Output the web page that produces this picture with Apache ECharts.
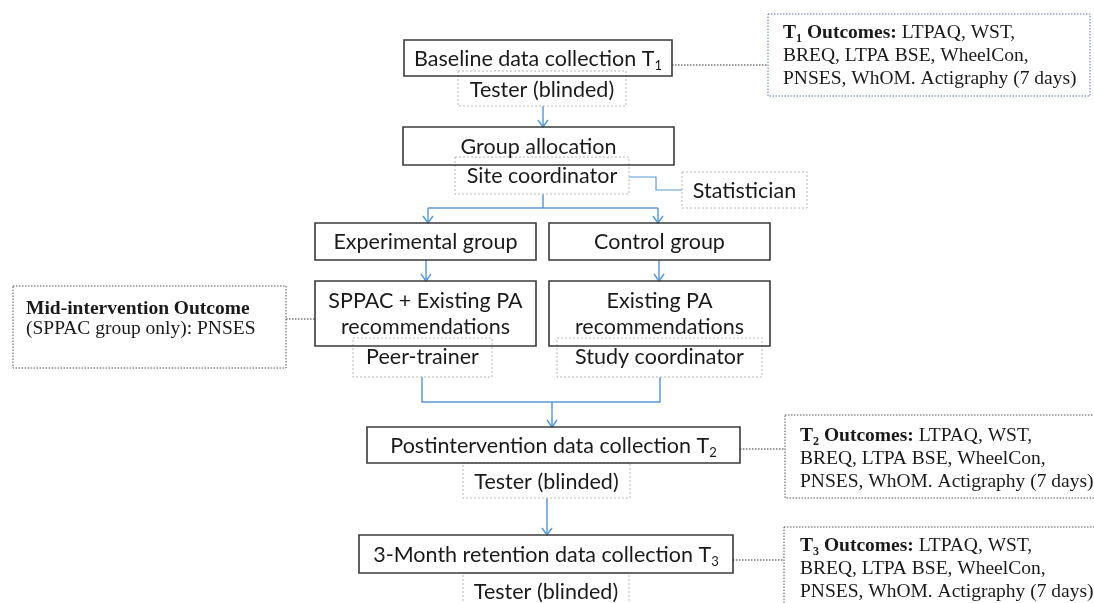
<!DOCTYPE html>
<html>
<head>
<meta charset="utf-8">
<script src="https://cdn.jsdelivr.net/npm/echarts@6/dist/echarts.min.js"></script>
<style>
  html, body { margin: 0; padding: 0; background: #fff; }
  #chart { width: 1094px; height: 603px; }
</style>
</head>
<body>
<div id="chart"></div>
<script>
// flow steps (text only)
const stepLabels = [
  'Baseline data collection T{s|1}',
  'Group allocation',
  'Experimental group',
  'Control group',
  'SPPAC + Existing PA\nrecommendations',
  'Existing PA\nrecommendations',
  'Postintervention data collection T{s|2}',
  '3-Month retention data collection T{s|3}'
]
const roleLabels = ['Tester (blinded)', 'Site coordinator', 'Statistician', 'Peer-trainer', 'Study coordinator', 'Tester (blinded)', 'Tester (blinded)']
const outcomeTimes = ['1', '2', '3']
const outcomeMeasures = ['LTPAQ, WST,', 'BREQ, LTPA BSE, WheelCon,', 'PNSES, WhOM. Actigraphy (7 days)']
const midTitle = 'Mid-intervention Outcome'
const midText = '(SPPAC group only): PNSES'

// layout
const stepRects = [
  [404, 40, 268, 36], [403, 127, 271, 38], [315, 223, 221, 37], [549, 223, 221, 37],
  [315, 281, 221, 65], [549, 281, 221, 65], [367, 427, 373, 36], [359, 535, 374, 38]
]
const roleRects = [
  [458, 71, 168, 35], [455, 157, 174, 37], [682, 172, 125, 36], [353, 338, 139, 39],
  [557, 338, 205, 39], [463, 463, 167, 35], [463, 573, 166, 40]
]
const outcomeRects = [[768, 14, 322, 82], [785, 415, 320, 83], [784, 527, 320, 90]]
const outcomeTextPos = [[783, 33], [800, 436], [800, 546]]

const chart = echarts.init(document.getElementById('chart'))
const sans = 'Lato, "Open Sans", sans-serif'
const serif = '"Liberation Serif", "DejaVu Serif", serif'
const blue = '#5b9bd5'
const els = []

function line(points, color, width, dash) {
  els.push({
    type: 'polyline',
    shape: { points: points },
    style: { stroke: color, lineWidth: width, fill: null, lineDash: dash || null }
  })
}
function arrow(x, y1, y2) {
  line([[x, y1], [x, y2]], blue, 1.5)
  line([[x - 5, y2 - 7], [x, y2], [x + 5, y2 - 7]], blue, 1.5)
}

// connectors
arrow(543, 106, 127)
line([[543, 194], [543, 208]], blue, 1.5)
line([[428, 208], [658, 208]], blue, 1.5)
arrow(428, 208, 223)
arrow(658, 208, 223)
arrow(426, 260, 281)
arrow(659, 260, 281)
line([[422, 377], [422, 402], [660, 402], [660, 377]], blue, 1.5)
arrow(552, 402, 427)
arrow(547, 498, 535)
line([[629, 177], [656, 177], [656, 190], [682, 190]], blue, 1.2)

line([[672, 65], [768, 65]], '#333', 1, [1.5, 1.5])
line([[286, 319], [315, 319]], '#333', 1, [1.5, 1.5])
line([[740, 449], [785, 449]], '#333', 1, [1.5, 1.5])
line([[733, 560], [784, 560]], '#333', 1, [1.5, 1.5])

// role boxes (dotted grey)
roleRects.forEach((r, i) => {
  els.push({
    type: 'rect',
    shape: { x: r[0], y: r[1], width: r[2], height: r[3] },
    style: { fill: null, stroke: '#b8b8b8', lineWidth: 1, lineDash: [2, 2] }
  })
  els.push({
    type: 'text',
    style: {
      text: roleLabels[i], x: r[0] + r[2] / 2, y: r[1] + 19,
      align: 'center', verticalAlign: 'middle',
      font: '21.5px ' + sans, fill: '#1a1a1a'
    }
  })
})

// step boxes
stepRects.forEach((r, i) => {
  els.push({
    type: 'rect',
    shape: { x: r[0], y: r[1], width: r[2], height: r[3] },
    style: { fill: null, stroke: '#3a3a3a', lineWidth: 1.6 }
  })
  els.push({
    type: 'text',
    style: {
      text: stepLabels[i], x: r[0] + r[2] / 2, y: r[1] + r[3] / 2 + 1,
      align: 'center', verticalAlign: 'middle',
      font: '21.5px ' + sans, fill: '#1a1a1a', lineHeight: 26,
      rich: { s: { fontSize: 13, fontFamily: sans, verticalAlign: 'bottom', padding: [9, 0, 0, 0] } }
    }
  })
})

// outcome boxes
outcomeRects.forEach((r, i) => {
  els.push({
    type: 'rect',
    shape: { x: r[0], y: r[1], width: r[2], height: r[3] },
    style: { fill: null, stroke: i === 0 ? '#5a78b8' : '#555', lineWidth: 1, lineDash: [1.5, 1.5] }
  })
  els.push({
    type: 'text',
    style: {
      text: '{b|T}{bs|' + outcomeTimes[i] + '}{b| Outcomes:} ' + outcomeMeasures.join('\n'),
      x: outcomeTextPos[i][0], y: outcomeTextPos[i][1] - 11.5,
      align: 'left', verticalAlign: 'top',
      font: '19.5px ' + serif, fill: '#1a1a1a', lineHeight: 23,
      rich: {
        b: { fontWeight: 'bold', fontSize: 19.5, fontFamily: serif },
        bs: { fontWeight: 'bold', fontSize: 12, fontFamily: serif, verticalAlign: 'bottom' }
      }
    }
  })
})

// mid-intervention box
els.push({
  type: 'rect',
  shape: { x: 13, y: 286, width: 273, height: 82 },
  style: { fill: null, stroke: '#555', lineWidth: 1, lineDash: [1.5, 1.5] }
})
els.push({
  type: 'text',
  style: {
    text: '{b|' + midTitle + '}\n' + midText,
    x: 26, y: 298.5, align: 'left', verticalAlign: 'top',
    font: '19.5px ' + serif, fill: '#1a1a1a', lineHeight: 20.5,
    rich: { b: { fontWeight: 'bold', fontSize: 19.5, fontFamily: serif } }
  }
})

chart.setOption({
  backgroundColor: '#fff',
  graphic: { elements: els }
})
</script>
</body>
</html>
